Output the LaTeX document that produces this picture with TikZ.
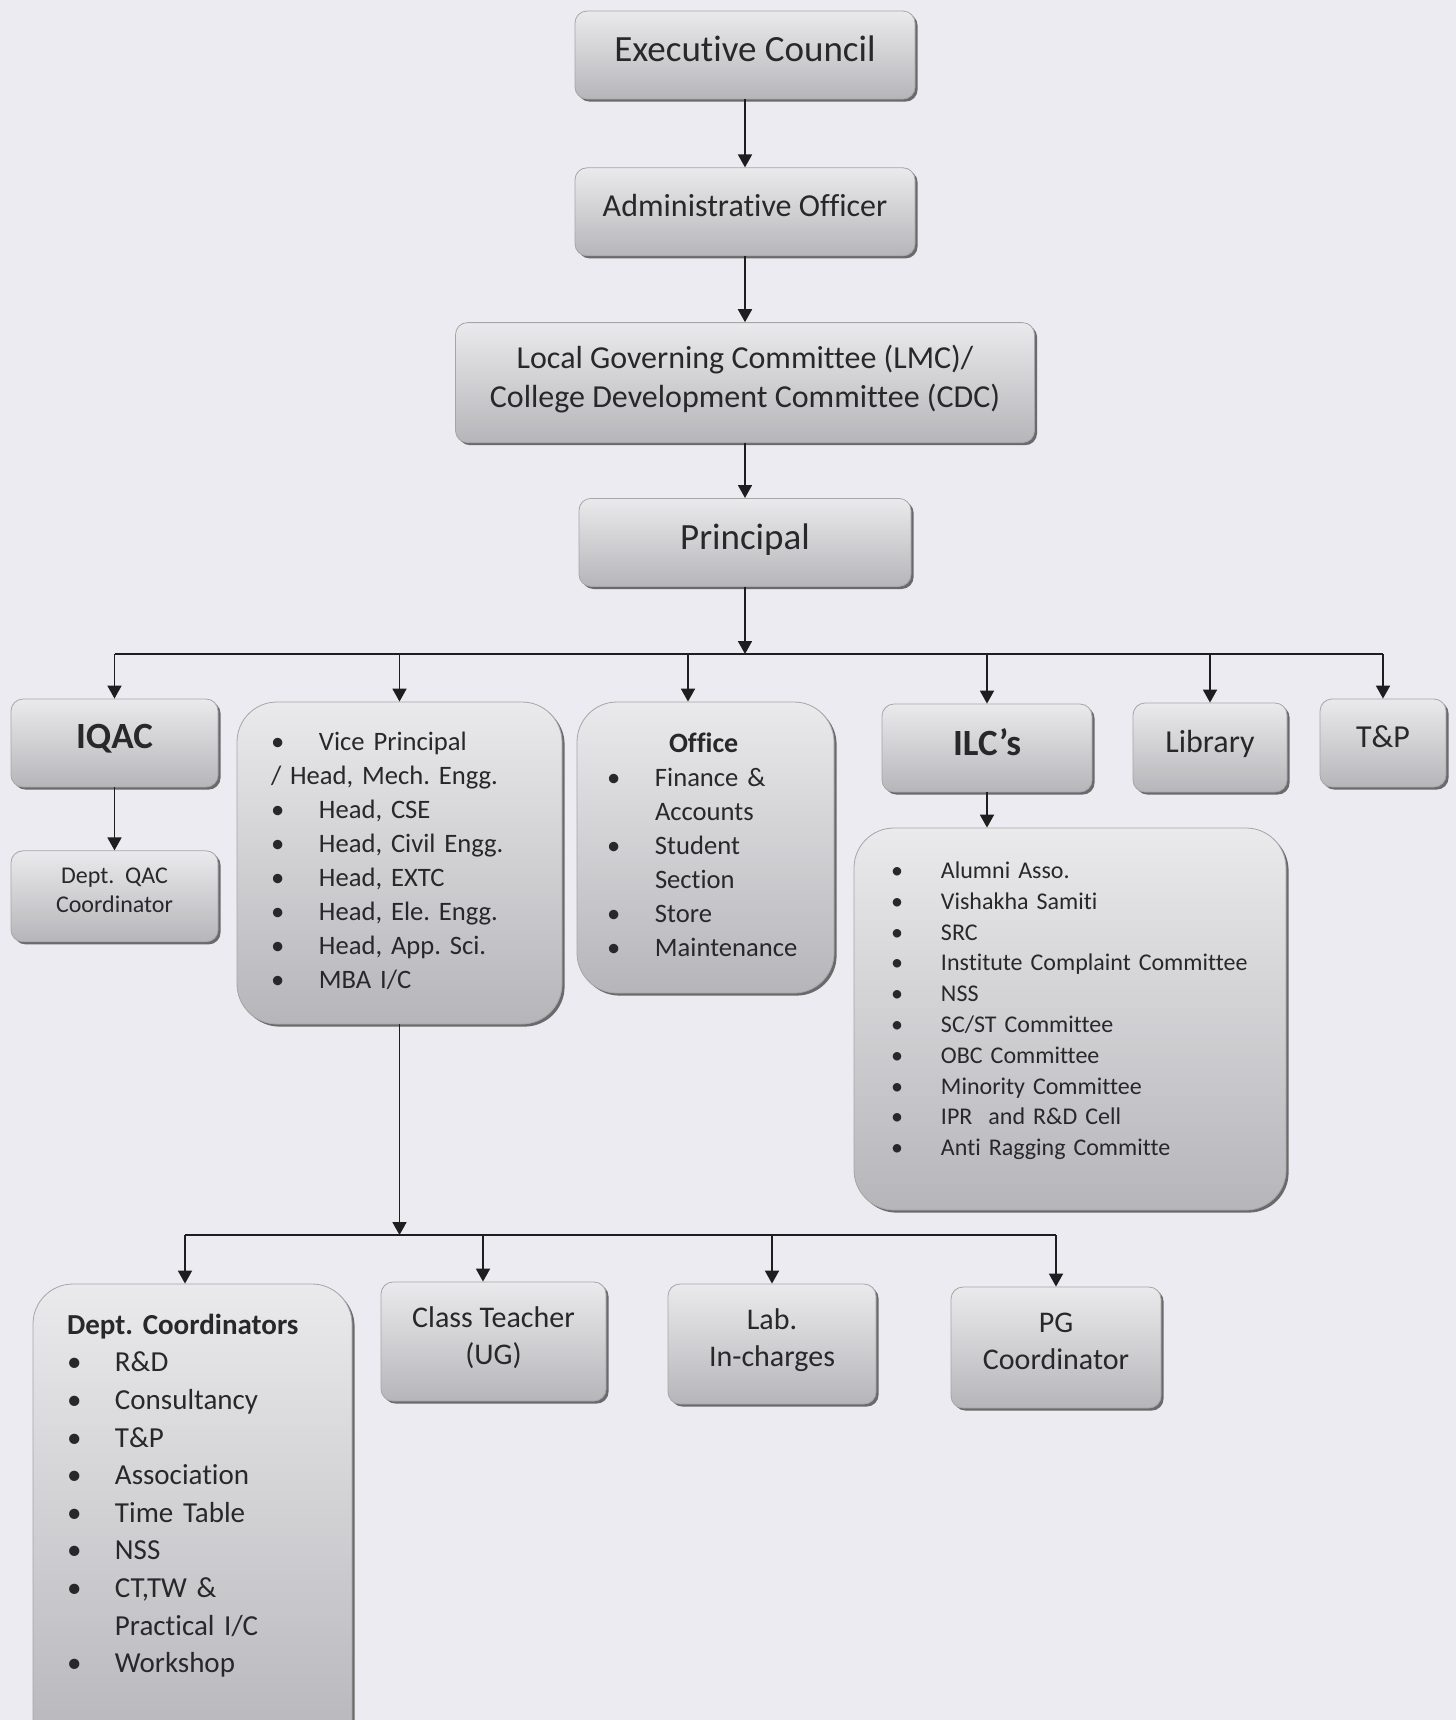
\documentclass[tikz,border=0pt]{standalone}
\usepackage{fontspec}
\setmainfont{Carlito}[Ligatures={TeX,NoCommon}]
\usetikzlibrary{shadows,arrows.meta,positioning}
\frenchspacing

\definecolor{pagebg}{RGB}{236,235,241}
\definecolor{boxtop}{RGB}{234,234,236}
\definecolor{boxbot}{RGB}{182,182,186}
\definecolor{txt}{RGB}{40,40,42}
\definecolor{wire}{RGB}{30,30,32}

\begin{document}
\begin{tikzpicture}[x=0.5pt, y=-0.5pt]
		\tikzstyle{box}=[rectangle, rounded corners=6pt, draw=black!35, top color=boxtop, bottom color=boxbot, drop shadow={shadow xshift=1.3pt, shadow yshift=-1.3pt, fill=black, opacity=0.55}, text=txt, align=center, inner sep=2pt, text depth=0.62em]
		\tikzstyle{listbox}=[box, rounded corners=20pt, align=left, text depth={}]
		\tikzstyle{connect}=[line width=0.9pt, draw=wire, -{Triangle[length=6.5pt, width=7pt]}]
		\tikzstyle{rail}=[line width=0.9pt, draw=wire]
		
		\path[use as bounding box, fill=pagebg] (0,0) rectangle (1456,1720);
		\clip (0,0) rectangle (1456,1720);
		
		% top chain
		\node[box, minimum width=170pt, minimum height=44pt, font=\fontsize{18.5}{22}\selectfont] (ec) at (745,55) {Executive Council};
		\node[box, minimum width=170pt, minimum height=44pt, font=\fontsize{16}{19}\selectfont] (ao) [below=34pt of ec] {Administrative Officer};
		\node[box, minimum width=289.5pt, minimum height=60pt, font=\fontsize{16}{19.2}\selectfont] (lmc) [below=33pt of ao] {Local Governing Committee (LMC)/\\College Development Committee (CDC)};
		\node[box, minimum width=166pt, minimum height=44pt, font=\fontsize{18.5}{22}\selectfont] (pr) [below=27.5pt of lmc] {Principal};
		
		% under the principal
		\node[box, minimum width=103.5pt, minimum height=44pt, font=\bfseries\fontsize{18.5}{22}\selectfont] (iqac) at (114.5,743) {IQAC};
		\node[box, minimum width=103.5pt, minimum height=45.5pt, font=\fontsize{12}{14.8}\selectfont] (qac) [below=31.5pt of iqac] {Dept.~ QAC\\Coordinator};
		\node[listbox, minimum height=161pt, text width=128.5pt, inner xsep=17pt, font=\fontsize{13.3}{17}\selectfont] (vp) at (399.5,863) {%
			\begin{tabular}{@{}p{24pt}@{}l@{}}
				\textbullet & Vice Principal\\
				\multicolumn{2}{@{}l@{}}{/ Head, Mech. Engg.}\\
				\textbullet & Head, CSE\\
				\textbullet & Head, Civil Engg.\\
				\textbullet & Head, EXTC\\
				\textbullet & Head, Ele. Engg.\\
				\textbullet & Head, App. Sci.\\
				\textbullet & MBA I/C
			\end{tabular}};
		\node[listbox, minimum height=145.5pt, text width=98.5pt, inner xsep=15pt, font=\fontsize{13.3}{17}\selectfont] (office) at (705.5,847.5) {%
			\begin{tabular}{@{}p{24pt}@{}l@{}}
				\multicolumn{2}{@{}l@{}}{\hspace{31pt}\fontsize{14}{17}\selectfont\bfseries Office}\\
				\textbullet & Finance \&\\
				& Accounts\\
				\textbullet & Student\\
				& Section\\
				\textbullet & Store\\
				\textbullet & Maintenance
			\end{tabular}};
		\node[box, minimum width=105pt, minimum height=44pt, font=\bfseries\fontsize{18.5}{22}\selectfont] (ilc) at (987,748) {ILC’s};
		\node[box, minimum width=77pt, minimum height=44.5pt, font=\fontsize{16}{19}\selectfont] (lib) at (1210,747.5) {Library};
		\node[box, minimum width=63pt, minimum height=44pt, font=\fontsize{16}{19}\selectfont] (tp) at (1383,743) {T\&P};
		\node[listbox, minimum height=191pt, text width=179pt, inner xsep=18.5pt, font=\fontsize{12}{15.4}\selectfont] (ilclist) at (1070,1019) {%
			\begin{tabular}{@{}p{25pt}@{}l@{}}
				\textbullet & Alumni Asso.\\
				\textbullet & Vishakha Samiti\\
				\textbullet & SRC\\
				\textbullet & Institute Complaint Committee\\
				\textbullet & NSS\\
				\textbullet & SC/ST Committee\\
				\textbullet & OBC Committee\\
				\textbullet & Minority Committee\\
				\textbullet & IPR~ and R\&D Cell\\
				\textbullet & Anti Ragging Committe\\[8pt]
			\end{tabular}};
		
		% under the vice principal
		\node[listbox, minimum height=238pt, text width=125.5pt, inner xsep=17pt, font=\fontsize{14.5}{18.8}\selectfont] (dc) at (192.5,1522) {%
			\begin{tabular}{@{}p{24pt}@{}l@{}}
				\multicolumn{2}{@{}l@{}}{\bfseries Dept. Coordinators}\\
				\textbullet & R\&D\\
				\textbullet & Consultancy\\
				\textbullet & T\&P\\
				\textbullet & Association\\
				\textbullet & Time Table\\
				\textbullet & NSS\\
				\textbullet & CT,TW \&\\
				& Practical I/C\\
				\textbullet & Workshop\\[26pt]
			\end{tabular}};
		\node[box, minimum width=112.5pt, minimum height=59.5pt, font=\fontsize{15}{18.6}\selectfont] (ct) at (493.5,1341.5) {Class Teacher\\(UG)};
		\node[box, minimum width=104pt, minimum height=60pt, font=\fontsize{15}{18.6}\selectfont] (lab) at (772,1344) {Lab.\\In-charges};
		\node[box, minimum width=105pt, minimum height=60.5pt, font=\fontsize{15}{18.6}\selectfont] (pg) at (1056,1347.5) {PG\\Coordinator};
		
		\coordinate (bus) at (745,654);
		\coordinate (lowbus) at (399,1235);
		\coordinate (offdrop) at ([xshift=-8.75pt]office.north);
		\coordinate (dcdrop) at ([xshift=-3.75pt]dc.north);
		\coordinate (ctdrop) at ([xshift=-5.25pt]ct.north);
		
		\draw[rail] (bus -| iqac.north) -- (bus -| tp.north);
		\draw[rail] (lowbus -| dcdrop) -- (lowbus -| pg.north);
		
		\path 
		(ec.south) edge [connect] (ao.north)
		(ao.south) edge [connect] (lmc.north)
		(lmc.south) edge [connect] (pr.north)
		(pr.south) edge [connect] (bus)
		
		(bus -| iqac.north) edge [connect] (iqac.north)
		(bus -| vp.north) edge [connect] (vp.north)
		(bus -| offdrop) edge [connect] (offdrop)
		(bus -| ilc.north) edge [connect] (ilc.north)
		(bus -| lib.north) edge [connect] (lib.north)
		(bus -| tp.north) edge [connect] (tp.north)
		
		(iqac.south) edge [connect] (qac.north)
		(ilc.south) edge [connect] (ilc.south |- ilclist.north)
		(vp.south) edge [connect] (vp.south |- lowbus)
		
		(lowbus -| dcdrop) edge [connect] (dcdrop)
		(lowbus -| ctdrop) edge [connect] (ctdrop)
		(lowbus -| lab.north) edge [connect] (lab.north)
		(lowbus -| pg.north) edge [connect] (pg.north)
		;
\end{tikzpicture}
\end{document}
